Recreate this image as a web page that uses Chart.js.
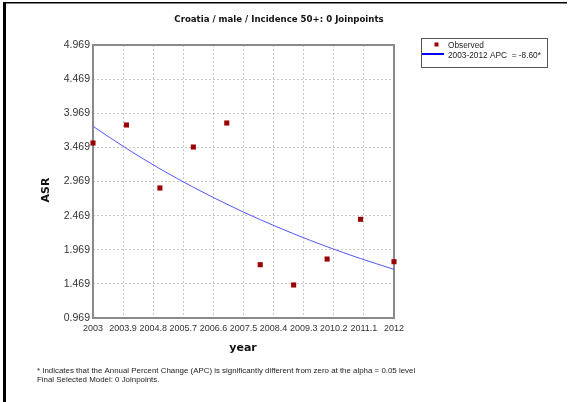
<!DOCTYPE html>
<html>
<head>
<meta charset="utf-8">
<script src="https://cdn.jsdelivr.net/npm/chart.js@4"></script>
<style>
  html, body { margin: 0; padding: 0; background: #fff; }
  #wrap { width: 571px; height: 402px; position: relative; }
</style>
</head>
<body>
<div id="wrap"><canvas id="jp" width="571" height="402"></canvas></div>
<script>
const years = [2003, 2004, 2005, 2006, 2007, 2008, 2009, 2010, 2011, 2012];
const observed = [3.533, 3.797, 2.874, 3.474, 3.826, 1.750, 1.453, 1.833, 2.415, 1.794];
const modeled = [3.778, 3.453, 3.156, 2.885, 2.637, 2.410, 2.203, 2.013, 1.840, 1.682];
const xTicks = [2003, 2003.9, 2004.8, 2005.7, 2006.6, 2007.5, 2008.4, 2009.3, 2010.2, 2011.1, 2012];
const yTicks = [0.969, 1.469, 1.969, 2.469, 2.969, 3.469, 3.969, 4.469, 4.969];

const title = 'Croatia / male / Incidence 50+: 0 Joinpoints';
const note1 = '* Indicates that the Annual Percent Change (APC) is significantly different from zero at the alpha = 0.05 level';
const note2 = 'Final Selected Model: 0 Joinpoints.';

const decor = {
    id: 'decor',
    beforeDraw(chart) {
        const c = chart.ctx;
        c.save();
        c.fillStyle = '#fff';
        c.fillRect(0, 0, chart.width, chart.height);
        c.restore();
    },
    beforeDatasetsDraw(chart) {
        const c = chart.ctx, a = chart.chartArea;
        c.save();
        c.strokeStyle = '#8a8a8a';
        c.lineWidth = 2;
        c.strokeRect(a.left, a.top, a.right - a.left, a.bottom - a.top);
        c.restore();
    },
    afterDraw(chart) {
        const c = chart.ctx;
        c.save();
        // outer frame
        c.fillStyle = '#000';
        c.fillRect(3, 2, 3, 400);
        c.fillRect(3, 2, 564, 1.5);

        c.fillStyle = '#111';
        c.textAlign = 'center';
        c.textBaseline = 'middle';
        c.font = 'bold 8.6px "DejaVu Sans"';
        c.fillText(title, 279, 20);

        c.font = 'bold 11px "DejaVu Sans"';
        c.fillText('year', 243, 348);
        c.save();
        c.translate(46, 190);
        c.rotate(-Math.PI / 2);
        c.fillText('ASR', 0, 0);
        c.restore();

        // legend
        c.strokeStyle = '#555';
        c.lineWidth = 1;
        c.strokeRect(421.5, 38.5, 126, 29);
        c.fillStyle = '#990000';
        c.fillRect(434.5, 42.5, 4, 4);
        c.strokeStyle = '#0000ff';
        c.lineWidth = 2;
        c.beginPath();
        c.moveTo(422, 54);
        c.lineTo(444, 54);
        c.stroke();
        c.fillStyle = '#222';
        c.textAlign = 'left';
        c.font = '8.3px "Liberation Sans"';
        c.fillText('Observed', 448, 46);
        c.fillText('2003-2012 APC  = -8.60*', 448, 56);

        // footnote
        c.font = '7.9px "Liberation Sans"';
        c.fillText(note1, 37, 371);
        c.fillText(note2, 37, 380);
        c.restore();
    }
};

new Chart(document.getElementById('jp'), {
    type: 'scatter',
    data: {
        datasets: [{
            label: 'Observed',
            data: years.map((y, i) => ({ x: y, y: observed[i] })),
            pointStyle: 'rect',
            pointRadius: 3.6,
            pointBackgroundColor: '#990000',
            pointBorderWidth: 0,
            showLine: false,
            clip: false,
            order: 0
        }, {
            label: '2003-2012 APC = -8.60*',
            data: years.map((y, i) => ({ x: y, y: modeled[i] })),
            showLine: true,
            borderColor: '#5555ff',
            borderWidth: 1,
            pointRadius: 0,
            cubicInterpolationMode: 'monotone',
            clip: false,
            order: 1
        }]
    },
    options: {
        responsive: false,
        animation: false,
        devicePixelRatio: 1,
        layout: { padding: { left: 0, top: 45, right: 177, bottom: 0 } },
        plugins: {
            legend: { display: false },
            title: { display: false },
            tooltip: { enabled: false }
        },
        scales: {
            x: {
                type: 'linear',
                min: 2003,
                max: 2012,
                afterBuildTicks: s => { s.ticks = xTicks.map(v => ({ value: v })); },
                afterFit: s => { s.height = 84; },
                ticks: {
                    autoSkip: false,
                    maxRotation: 0,
                    padding: 5,
                    color: '#333',
                    font: { family: 'Liberation Sans', size: 9 },
                    callback: v => String(v)
                },
                grid: { color: '#c8c8c8', drawTicks: false, lineWidth: 1 },
                border: { display: false, dash: [2, 2] }
            },
            y: {
                min: 0.969,
                max: 4.969,
                afterBuildTicks: s => { s.ticks = yTicks.map(v => ({ value: v })); },
                afterFit: s => { s.width = 93; },
                ticks: {
                    autoSkip: false,
                    padding: 3,
                    color: '#333',
                    font: { family: 'Liberation Sans', size: 10.5 },
                    callback: v => v.toFixed(3)
                },
                grid: { color: '#c8c8c8', drawTicks: false, lineWidth: 1 },
                border: { display: false, dash: [2, 2] }
            }
        }
    },
    plugins: [decor]
});
</script>
</body>
</html>
